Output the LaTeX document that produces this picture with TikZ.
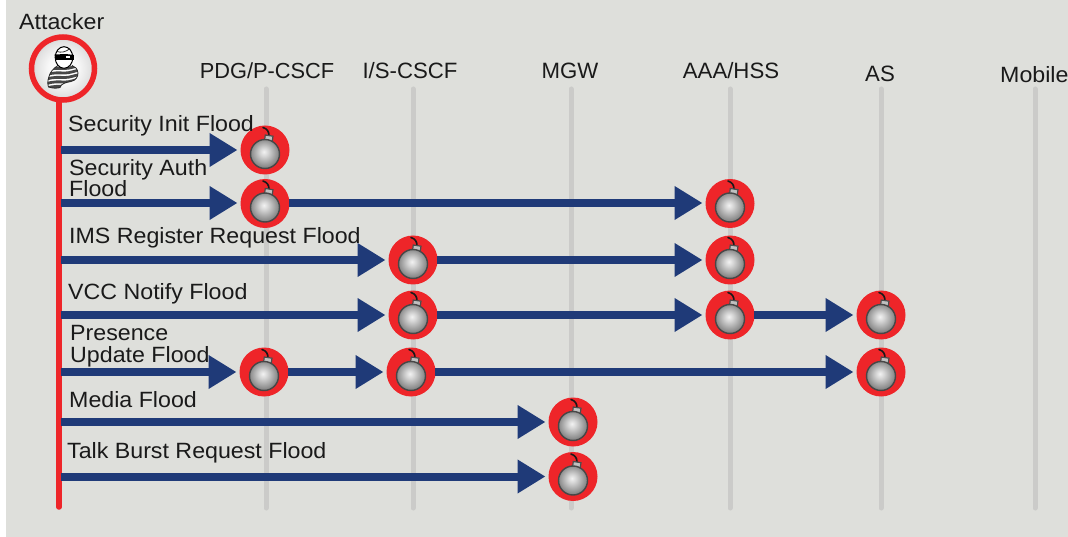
\documentclass[tikz,border=0pt]{standalone}
\usepackage{fontspec}
\setmainfont{Liberation Sans}
\newfontfamily\widerfont[FakeStretch=1.05]{Liberation Sans}
\usetikzlibrary{arrows.meta}
\definecolor{bgc}{HTML}{DEDFDB}
\definecolor{lifec}{HTML}{CBCBC9}
\definecolor{redc}{HTML}{EE2529}
\definecolor{navyc}{HTML}{1F3A78}
\definecolor{txtc}{HTML}{1A1A1A}
\pgfdeclareradialshading{ballshade}{\pgfpoint{-2bp}{4bp}}{color(0bp)=(white!90!gray); color(7bp)=(black!16); color(17bp)=(black!34); color(27bp)=(black!52); color(50bp)=(black!60)}
\pgfdeclareradialshading{headshade}{\pgfpoint{0bp}{0bp}}{color(0bp)=(white); color(12bp)=(white!97!black); color(22bp)=(white!88!black); color(30bp)=(white!68!black); color(50bp)=(white!55!black)}
\tikzset{
  x=1pt,y=-1pt,
  lbl/.style={anchor=base west,inner sep=0pt,font=\widerfont\fontsize{22.1}{22.1}\selectfont,text=txtc},
  hdr/.style={anchor=base,inner sep=0pt,font=\fontsize{22.2}{22.2}\selectfont,text=txtc},
  life/.style={line width=5pt,lifec,line cap=round},
  attackerline/.style={line width=5.5pt,redc,line cap=round},
  flow/.style={line width=8pt,navyc,-{Triangle[length=28pt,width=32pt]},shorten >=3pt,shorten <=-1pt},
  bombnode/.style={circle,fill=redc,draw=none,minimum size=49pt,inner sep=0pt,outer sep=0pt},
  startpt/.style={inner sep=0pt,outer sep=0pt}
}
% \bombat{name}{x}{y}
\newcommand{\bombat}[3]{%
  \node[bombnode] (#1) at (#2,#3) {};
  \begin{scope}[shift={(#2,#3)}]
    \draw[line width=1.6pt,black!90,line cap=round] (4,-14) .. controls (4,-19) and (2,-21) .. (-2,-22.5);
    \draw[line width=1.2pt,black!70,fill=black!25] (0.3,-15) -- (8,-13.8) -- (6.8,-6) -- (-0.8,-7) -- cycle;
    \draw[line width=1.4pt,black!72,shading=ballshade] (0,4) circle[radius=14.5];
  \end{scope}}
\begin{document}
\begin{tikzpicture}
\useasboundingbox (0,0) rectangle (1068,537);
\fill[white] (0,0) rectangle (1068,537);
\fill[bgc] (6,0) rectangle (1068,537);

% header labels
\node[lbl] (attlabel) at (19,29.5) {Attacker};
\node[hdr,font=\fontsize{21.8}{21.8}\selectfont] (h1) at (267,79) {PDG/P-CSCF};
\node[hdr] (h2) at (410,78.5) {I/S-CSCF};
\node[hdr] (h3) at (570,79) {MGW};
\node[hdr] (h4) at (731,78.5) {AAA/HSS};
\node[hdr] (h5) at (880,81.5) {AS};
\node[lbl] (h6) at (1000,82.5) {Mobile};

% lifelines
\coordinate (t1) at (266,89); \coordinate (b1) at (266,508);
\coordinate (t2) at (413,89); \coordinate (b2) at (413,508);
\coordinate (t3) at (571,89); \coordinate (b3) at (571,508);
\coordinate (t4) at (730,89); \coordinate (b4) at (730,508);
\coordinate (t5) at (881,89); \coordinate (b5) at (881,508);
\coordinate (t6) at (1035,89); \coordinate (b6) at (1035,508);
\draw[life] (t1) -- (b1);
\draw[life] (t2) -- (b2);
\draw[life] (t3) -- (b3);
\draw[life] (t4) -- (b4);
\draw[life] (t5) -- (b5);
\draw[life] (t6) -- (b6);

% attacker
\coordinate (attend) at (59,507);
\node[circle,inner sep=0pt,minimum size=63pt,draw=redc,line width=5.5pt,shading=headshade] (attacker) at (63,68.5) {};
\draw[attackerline] (59,100) -- (attend);
\begin{scope}[shift={(63,68.5)}]
  % body
  \begin{scope}
    \clip (-5,-3) .. controls (-10,0) and (-13,4) .. (-14,8) .. controls (-15.5,12) and (-15.5,16) .. (-14.5,18.5)
      .. controls (-10,20) and (-6,20) .. (-3,19)
      .. controls (-2,15) and (3,14) .. (8,13)
      .. controls (13,12) and (15,8) .. (15,4.5)
      .. controls (14.5,0) and (12,-2) .. (9,-3) -- cycle;
    \fill[white] (-20,-10) rectangle (20,25);
    \foreach \ya/\yb/\yc in {1/0/-3,5.5/4.5/1.5,10/9/6,14.5/13.5/10.5,19/18/15}{
      \draw[line width=2.8pt,black!72] (-17,\ya+1) .. controls (-10,\ya-2) and (-3,\yb) .. (2,\yb) .. controls (7,\yb) and (11,\yc+1) .. (17,\yc);
    }
  \end{scope}
  \draw[line width=.8pt,black!85] (-5,-3) .. controls (-10,0) and (-13,4) .. (-14,8) .. controls (-15.5,12) and (-15.5,16) .. (-14.5,18.5)
      .. controls (-10,20) and (-6,20) .. (-3,19)
      .. controls (-2,15) and (3,14) .. (8,13)
      .. controls (13,12) and (15,8) .. (15,4.5)
      .. controls (14.5,0) and (12,-2) .. (9,-3);
  % head
  \draw[line width=1pt,black,fill=white] (1,-11) circle[x radius=8.8,y radius=10.8];
  \fill[black] (-8.5,-14) -- (3,-14.5) -- (10.8,-13.5) -- (10.8,-8.5) -- (-7.5,-8.5) -- cycle;
  \fill[white] (3,-12.5) rectangle (6.5,-10.5);
  \draw[line width=.8pt,black!80] (-6,-17) .. controls (-2,-15.5) and (3,-16.5) .. (7,-20);
\end{scope}

% row start points on the attacker line
\coordinate (s1) at (62,150);
\coordinate (s2) at (62,203);
\coordinate (s3) at (62,260);
\coordinate (s4) at (62,315);
\coordinate (s5) at (62,372);
\coordinate (s6) at (62,422);
\coordinate (s7) at (62,476.5);

% bombs
\bombat{a1}{265}{150}
\bombat{a2}{265}{203.5}
\bombat{a3}{730}{203.5}
\bombat{c1}{413}{260}
\bombat{c2}{730}{260}
\bombat{d1}{413}{315}
\bombat{d2}{730}{315}
\bombat{d3}{881}{315}
\bombat{e1}{264}{372}
\bombat{e2}{411}{372}
\bombat{e3}{881}{372}
\bombat{f1}{573}{422}
\bombat{g1}{573}{476.5}

% flows
\draw[flow] (s1) -- (a1);
\draw[flow] (s2) -- (a2.west |- s2);
\draw[flow] (a2.east |- s2) -- (a3.west |- s2);
\draw[flow] (s3) -- (c1);
\draw[flow] (c1) -- (c2);
\draw[flow] (s4) -- (d1);
\draw[flow] (d1) -- (d2);
\draw[flow] (d2) -- (d3);
\draw[flow] (s5) -- (e1);
\draw[flow] (e1) -- (e2);
\draw[flow] (e2) -- (e3);
\draw[flow] (s6) -- (f1);
\draw[flow] (s7) -- (g1);

% labels
\node[lbl] (l1) at (68,131.5) {Security Init Flood};
\node[lbl] (l2a) at (69,175.5) {Security Auth};
\node[lbl] (l2b) at (69,196.5) {Flood};
\node[lbl] (l3) at (69,243.5) {IMS Register Request Flood};
\node[lbl] (l4) at (68,299) {VCC Notify Flood};
\node[lbl] (l5a) at (70,340.5) {Presence};
\node[lbl] (l5b) at (70,362) {Update Flood};
\node[lbl] (l6) at (69,407) {Media Flood};
\node[lbl] (l7) at (67,458) {Talk Burst Request Flood};
\end{tikzpicture}
\end{document}
